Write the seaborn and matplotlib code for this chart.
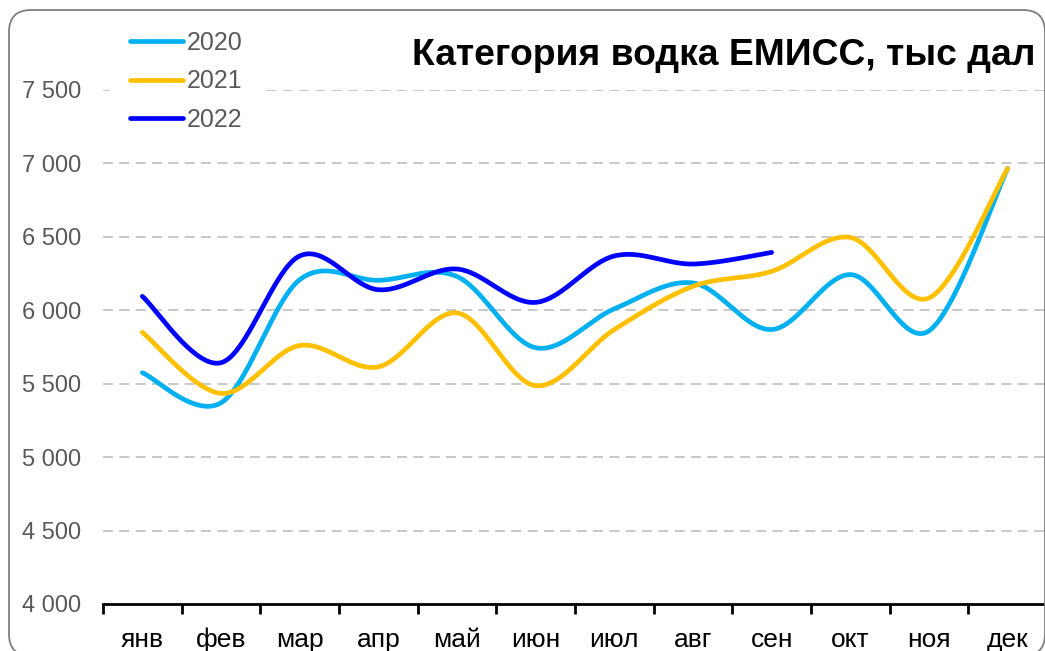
import numpy as np
import pandas as pd
import seaborn as sns
import matplotlib.pyplot as plt
from matplotlib.patches import FancyBboxPatch
from matplotlib.transforms import IdentityTransform
from matplotlib.ticker import FuncFormatter, FixedLocator

months = ["янв", "фев", "мар", "апр", "май", "июн", "июл", "авг", "сен", "окт", "ноя", "дек"]
v2020 = [5575, 5370, 6208, 6204, 6230, 5745, 6010, 6186, 5869, 6243, 5860, 6966]
v2021 = [5850, 5434, 5760, 5615, 5982, 5487, 5869, 6163, 6265, 6496, 6084, 6966]
v2022 = [6095, 5643, 6370, 6140, 6281, 6054, 6370, 6315, 6394]
years = ["2020", "2021", "2022"]
colors = ["#00B0F0", "#FFC000", "#0000FF"]
title = "Категория водка ЕМИСС, тыс дал"


def smooth(vals, n=40):
    # excel-like smoothed line: bezier segments with catmull-rom control points
    p = np.column_stack([np.arange(len(vals)), np.asarray(vals, float)])
    xs, ys = [], []
    for i in range(len(p) - 1):
        p0 = p[max(i - 1, 0)]
        p3 = p[min(i + 2, len(p) - 1)]
        c1 = p[i] + (p[i + 1] - p0) / 6
        c2 = p[i + 1] - (p3 - p[i]) / 6
        t = np.linspace(0, 1, n)[:, None]
        b = (1 - t) ** 3 * p[i] + 3 * (1 - t) ** 2 * t * c1 + 3 * (1 - t) * t ** 2 * c2 + t ** 3 * p[i + 1]
        xs.extend(b[:, 0])
        ys.extend(b[:, 1])
    return xs, ys


frames = []
for yr, vals in zip(years, [v2020, v2021, v2022]):
    xs, ys = smooth(vals)
    frames.append(pd.DataFrame({"x": xs, "value": ys, "year": yr}))
df = pd.concat(frames, ignore_index=True)

sns.set_theme(style="white")
plt.rcParams["font.family"] = ["Liberation Sans", "DejaVu Sans"]

W, H = 1045, 651
fig = plt.figure(figsize=(W / 100, H / 100), dpi=100)
ax = fig.add_axes([103 / W, (H - 604) / H, 944 / W, 514 / H])

sns.lineplot(data=df, x="x", y="value", hue="year", palette=colors, sort=False,
             estimator=None, lw=3.4, solid_capstyle="round", ax=ax, legend=False)

ax.set_xlim(-0.5, 11.5)
ax.set_ylim(4000, 7500)
ax.set_xlabel("")
ax.set_ylabel("")

ax.xaxis.set_major_locator(FixedLocator(range(12)))
ax.set_xticklabels(months, fontsize=19, color="black")
ax.xaxis.set_minor_locator(FixedLocator(np.arange(-0.5, 12, 1)))
ax.tick_params(axis="x", which="major", length=0, pad=17)
ax.tick_params(axis="x", which="minor", length=7, width=2, color="black", direction="out", bottom=True)

ax.set_yticks(np.arange(4000, 7501, 500))
ax.yaxis.set_major_formatter(FuncFormatter(lambda v, _: f"{v:,.0f}".replace(",", " ")))
ax.tick_params(axis="y", length=0, pad=16, labelsize=17, labelcolor="#595959")

for v in np.arange(4500, 7501, 500):
    ax.axhline(v, color="#BFBFBF", lw=1.2, ls=(0, (6, 3.8)), zorder=0)

sns.despine(ax=ax, left=True, top=True, right=True)
ax.spines["bottom"].set_color("black")
ax.spines["bottom"].set_linewidth(2)

handles = [plt.Line2D([], [], color=c, lw=3.4, solid_capstyle="round") for c in colors]
leg = ax.legend(handles, years, loc="upper left", bbox_to_anchor=(110 / W, 1 - 11 / H),
                bbox_transform=fig.transFigure, fontsize=18, frameon=True, facecolor="white",
                edgecolor="none", framealpha=1, fancybox=False, borderpad=0.8,
                handlelength=2.1, handletextpad=0.16, labelspacing=0.58, borderaxespad=0)
for t in leg.get_texts():
    t.set_color("#595959")

fig.text(1035 / W, 1 - 65 / H, title, ha="right", va="baseline", fontsize=26.8,
         fontweight="bold", color="black")

box = FancyBboxPatch((9, -5), 1036, 646, boxstyle="round,pad=0,rounding_size=22",
                     transform=IdentityTransform(), facecolor="none", edgecolor="#7F7F7F",
                     lw=1.3)
fig.patches.append(box)

fig.savefig("out.png", dpi=100)
